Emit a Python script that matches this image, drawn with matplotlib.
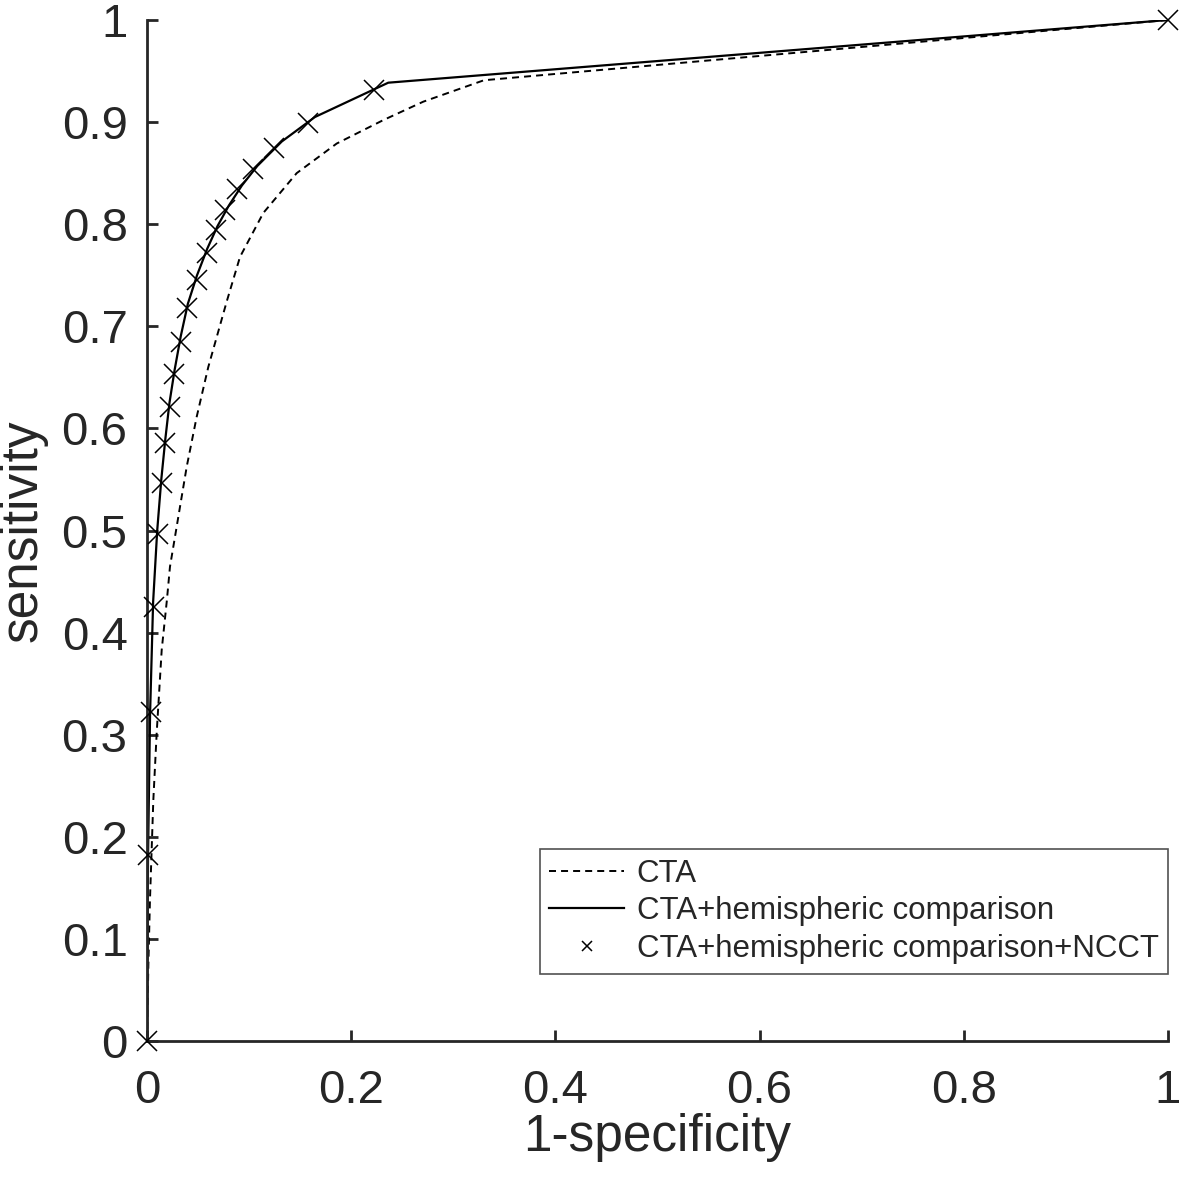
import matplotlib
matplotlib.use("Agg")
import matplotlib.pyplot as plt

plt.rcParams['font.family'] = ['Liberation Sans', 'DejaVu Sans']

# CTA (dashed)
cta_x = [0, 0.0013, 0.0029, 0.0062, 0.0095, 0.0144, 0.0195, 0.0225, 0.0307, 0.0389,
         0.0487, 0.060, 0.078, 0.0911, 0.1139, 0.1466, 0.1858, 0.2315, 0.2706, 0.330, 1]
cta_y = [0, 0.073, 0.138, 0.236, 0.302, 0.383, 0.432, 0.4645, 0.5135, 0.5625,
         0.6115, 0.660, 0.724, 0.768, 0.811, 0.850, 0.879, 0.902, 0.920, 0.941, 1]

# CTA + hemispheric comparison (solid)
hemi_x = [0, 0.001, 0.003, 0.006, 0.010, 0.014, 0.018, 0.022, 0.027, 0.033, 0.040,
          0.049, 0.059, 0.069, 0.080, 0.093, 0.108, 0.132, 0.1645, 0.2363, 1]
hemi_y = [0, 0.18, 0.32, 0.43, 0.50, 0.55, 0.59, 0.625, 0.657, 0.69, 0.722,
          0.75, 0.776, 0.798, 0.818, 0.838, 0.857, 0.881, 0.905, 0.9386, 1]

# CTA + hemispheric comparison + NCCT (x markers)
ncct_x = [0, 0.0013, 0.0036, 0.0069, 0.0111, 0.0150, 0.0176, 0.0225, 0.0267, 0.0330,
          0.0395, 0.0487, 0.0585, 0.0676, 0.0764, 0.0884, 0.1041, 0.1244, 0.1580, 0.2223, 1]
ncct_y = [0, 0.182, 0.3225, 0.4254, 0.4963, 0.5468, 0.5854, 0.6213, 0.6533, 0.6850,
          0.7177, 0.7454, 0.7715, 0.7943, 0.8139, 0.8345, 0.8537, 0.8743, 0.8994, 0.9314, 1]

xticks = [0, 0.2, 0.4, 0.6, 0.8, 1]
xticklabels = ['0', '0.2', '0.4', '0.6', '0.8', '1']
yticks = [0, 0.1, 0.2, 0.3, 0.4, 0.5, 0.6, 0.7, 0.8, 0.9, 1]
yticklabels = ['0', '0.1', '0.2', '0.3', '0.4', '0.5', '0.6', '0.7', '0.8', '0.9', '1']

txt = '#262626'
fig = plt.figure(figsize=(11.81, 11.81), dpi=100)
ax = fig.add_axes([147/1181, 140/1181, 1021/1181, 1021/1181])

ax.plot(cta_x, cta_y, linestyle=(0, (3.6, 2.6)), color='black', lw=1.4, label='CTA')
ax.plot(hemi_x, hemi_y, '-', color='black', lw=1.6, label='CTA+hemispheric comparison')
ax.plot(ncct_x, ncct_y, 'x', color='black', ms=14, mew=1.1, linestyle='none',
        clip_on=False, zorder=5, label='CTA+hemispheric comparison+NCCT')

ax.set_xlim(0, 1)
ax.set_ylim(0, 1)
ax.set_xticks(xticks)
ax.set_xticklabels(xticklabels)
ax.set_yticks(yticks)
ax.set_yticklabels(yticklabels)
ax.spines['top'].set_visible(False)
ax.spines['right'].set_visible(False)
for s in ['left', 'bottom']:
    ax.spines[s].set_linewidth(2.0)
    ax.spines[s].set_color(txt)
ax.tick_params(direction='in', length=8, width=2, colors=txt, labelsize=34)
ax.tick_params(axis='x', pad=20)
ax.tick_params(axis='y', pad=14)
ax.set_xlabel('1-specificity', fontsize=37, color=txt, labelpad=0)
ax.set_ylabel('sensitivity', fontsize=37, color=txt, labelpad=10)

leg = ax.legend(loc='lower right', bbox_to_anchor=(1.0, 0.066), fontsize=22.5,
                frameon=True, fancybox=False, markerscale=0.55, handlelength=2.4,
                handletextpad=0.4, borderpad=0.3, borderaxespad=0, labelspacing=0.25)
leg.get_frame().set_edgecolor(txt)
leg.get_frame().set_linewidth(1.2)
for t in leg.get_texts():
    t.set_color(txt)

fig.savefig('out.png', dpi=100)
